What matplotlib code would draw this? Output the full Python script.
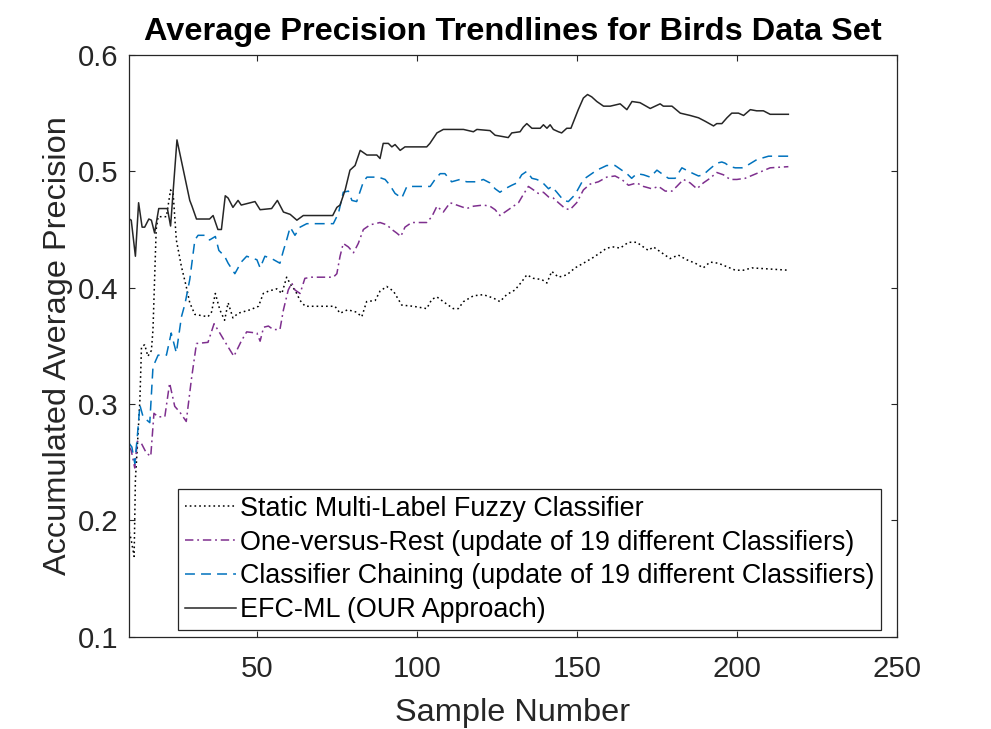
import matplotlib
matplotlib.use("Agg")
import matplotlib.pyplot as plt

# ---------------- data ----------------
static_pts = [(10,0.19),(10.6,0.183),(11.5,0.169),(11.9,0.235),(12.5,0.263),(13.3,0.303),(13.8,0.349),
    (14.8,0.351),(15.8,0.341),(16.9,0.346),(17.4,0.364),(18.4,0.450),(19,0.461),(21.6,0.461),(22.9,0.484),
    (23.7,0.481),(24.7,0.441),(26.3,0.418),(27.8,0.401),(28.9,0.387),(30.5,0.377),(34.6,0.375),(35.7,0.379),
    (36.9,0.395),(38.3,0.381),(39.8,0.372),(40.9,0.387),(42.4,0.374),(44,0.378),(47.8,0.381),(50.4,0.384),
    (51.9,0.395),(53.5,0.397),(56.1,0.399),(57.7,0.395),(59.2,0.409),(60.8,0.401),(61.8,0.398),(63.4,0.389),
    (65,0.384),(74.3,0.384),(75.9,0.378),(78.3,0.381),(81,0.379),(82.7,0.375),(84.2,0.388),(86.9,0.389),
    (88.4,0.397),(90.5,0.401),(92.6,0.397),(95.2,0.385),(98.8,0.384),(103,0.382),(104.6,0.390),(106.2,0.392),
    (108.7,0.387),(111.3,0.382),(112.9,0.382),(114.5,0.388),(117.6,0.393),(120.7,0.394),(123.9,0.391),
    (125.9,0.388),(128,0.394),(130.6,0.398),(132.7,0.405),(134.3,0.411),(136.4,0.408),(139,0.407),
    (140.6,0.404),(142.1,0.414),(144.2,0.409),(146.8,0.411),(149.4,0.417),(152,0.421),(155.1,0.426),
    (157.8,0.431),(159.3,0.434),(161.4,0.435),(163.5,0.434),(166.1,0.439),(168.7,0.439),(169.7,0.437),
    (172.3,0.432),(173.9,0.435),(176.5,0.430),(179.1,0.425),(181.7,0.428),(184.3,0.424),(187,0.421),
    (189.5,0.417),(191.6,0.422),(194.2,0.421),(196.9,0.418),(199.5,0.415),(202,0.415),(204.7,0.417),
    (216.1,0.415)]

ovr_pts = [(10,0.263),(10.6,0.260),(11.7,0.245),(12.5,0.268),(13.8,0.266),(15.3,0.258),(16.7,0.255),
    (17.7,0.292),(19,0.289),(21.1,0.289),(22.6,0.318),(24.2,0.298),(25.8,0.293),(27.8,0.285),(29.4,0.321),
    (31,0.352),(34.6,0.353),(36.5,0.369),(38.3,0.361),(40.9,0.349),(42.7,0.341),(45,0.354),(46.7,0.362),
    (49.9,0.361),(50.9,0.354),(52,0.366),(53.5,0.367),(55,0.364),(57.1,0.364),(58.2,0.381),(59.7,0.398),
    (60.8,0.404),(61.8,0.398),(63.4,0.395),(64.9,0.408),(67,0.409),(73.8,0.409),(74.9,0.412),(75.9,0.427),
    (76.9,0.438),(78.5,0.435),(80.1,0.430),(81.6,0.438),(83.2,0.450),(85.3,0.454),(88.4,0.456),(90.5,0.454),
    (92.1,0.450),(93.6,0.447),(94.9,0.444),(96.2,0.452),(98.3,0.456),(103,0.456),(104.6,0.461),(106.2,0.470),
    (108.2,0.465),(110.3,0.473),(112.4,0.471),(115.5,0.468),(117.6,0.470),(120.7,0.471),(122.8,0.470),
    (124.4,0.467),(125.9,0.462),(127.5,0.465),(130.1,0.470),(131.7,0.473),(133.2,0.480),(134.8,0.487),
    (136.4,0.484),(137.9,0.481),(139.5,0.482),(141.1,0.478),(142.6,0.477),(144.2,0.473),(146.3,0.468),
    (147.8,0.467),(149.9,0.473),(152,0.484),(154.1,0.489),(156.7,0.491),(159.3,0.495),(161.9,0.496),
    (164,0.493),(166.1,0.488),(168.7,0.490),(170.8,0.487),(173.4,0.485),(175.5,0.487),(177.6,0.483),
    (179.7,0.483),(181.2,0.487),(183.3,0.493),(185.4,0.490),(187.5,0.485),(189.5,0.490),(191.6,0.494),
    (193.7,0.499),(195.8,0.497),(197.9,0.493),(200,0.493),(202.6,0.494),(205.2,0.497),(207.8,0.500),
    (210.4,0.503),(216.1,0.504)]

cc_pts = [(10,0.266),(10.8,0.263),(11.7,0.249),(12.5,0.272),(13.3,0.299),(14.3,0.289),(16.4,0.284),
    (17.4,0.332),(19,0.342),(21.6,0.342),(23.1,0.361),(24.7,0.344),(26.3,0.375),(27.4,0.386),(28.9,0.407),
    (30.5,0.441),(31.5,0.445),(33.6,0.445),(35.1,0.441),(36.9,0.444),(38,0.432),(39.8,0.427),(40.9,0.421),
    (43,0.412),(45,0.422),(46.7,0.427),(49.9,0.424),(50.9,0.417),(52.4,0.427),(54.5,0.425),(57.1,0.421),
    (58.2,0.432),(59.2,0.441),(60.3,0.452),(61.8,0.445),(63.4,0.452),(65.5,0.455),(73.8,0.455),(75.4,0.464),
    (76.9,0.482),(78.5,0.483),(79.6,0.475),(81.1,0.474),(83.2,0.491),(84.3,0.495),(87.9,0.495),(90,0.493),
    (91.5,0.488),(93.1,0.481),(95.2,0.477),(96.8,0.487),(104.1,0.487),(105.6,0.493),(107.2,0.498),
    (108.7,0.498),(110.8,0.491),(113.4,0.493),(115.5,0.491),(118.7,0.491),(120.7,0.493),(122.8,0.490),
    (124.4,0.485),(125.9,0.482),(127.5,0.485),(129.6,0.488),(131.2,0.490),(132.7,0.497),(134.3,0.500),
    (135.9,0.494),(137.4,0.493),(139,0.491),(141.1,0.485),(142.1,0.487),(143.7,0.482),(145.8,0.475),
    (147.3,0.474),(149.4,0.480),(152,0.493),(154.1,0.497),(156.2,0.501),(159.3,0.505),(161.9,0.505),
    (164,0.501),(165.6,0.498),(167.1,0.494),(168.7,0.498),(170.8,0.497),(172.9,0.495),(175,0.501),
    (176.5,0.498),(178.6,0.494),(180.7,0.494),(182.8,0.503),(184.9,0.500),(186.4,0.498),(188,0.496),
    (189.5,0.497),(191.1,0.501),(193.7,0.507),(195.3,0.508),(196.3,0.507),(197.9,0.504),(199.5,0.503),
    (201.6,0.503),(203.2,0.505),(206.2,0.510),(209.9,0.513),(216.1,0.513)]

efc_pts = [(10,0.459),(10.6,0.458),(11.9,0.427),(12.9,0.473),(14,0.452),(14.8,0.452),(16.1,0.459),
    (16.9,0.458),(17.9,0.447),(19.2,0.468),(21.9,0.468),(22.9,0.453),(24.9,0.527),(28.9,0.475),(29.6,0.470),
    (31,0.459),(35.1,0.459),(36.2,0.462),(37.7,0.450),(38.8,0.450),(40,0.479),(40.9,0.477),(42.4,0.469),
    (44,0.475),(45,0.471),(49.3,0.474),(50.9,0.467),(54.5,0.468),(56.3,0.475),(58.2,0.465),(60.3,0.463),
    (62.4,0.458),(64.4,0.462),(73.6,0.462),(74.9,0.469),(75.9,0.471),(77.5,0.484),(79,0.501),(80.6,0.505),
    (82.2,0.518),(84.3,0.514),(87.4,0.514),(88.4,0.511),(89.4,0.524),(91,0.524),(92.1,0.521),(93.1,0.523),
    (94.7,0.518),(96.2,0.521),(103,0.521),(104,0.524),(106.2,0.533),(108.2,0.536),(114.5,0.536),
    (117.6,0.534),(118.7,0.536),(122.8,0.535),(124.4,0.531),(126.5,0.530),(128.5,0.529),(129.6,0.533),
    (132.2,0.534),(133.2,0.538),(134.3,0.541),(135.9,0.537),(138.5,0.537),(139.5,0.540),(140.6,0.537),
    (141.6,0.540),(142.6,0.536),(144.2,0.534),(145.2,0.533),(146.8,0.537),(148.1,0.537),(150.4,0.553),
    (152,0.563),(153.3,0.566),(154.6,0.564),(156.2,0.560),(158.3,0.556),(160.4,0.556),(163.5,0.558),
    (165.6,0.553),(167.2,0.560),(169.7,0.559),(172.9,0.554),(176,0.558),(177,0.556),(179.7,0.556),
    (182.3,0.550),(185.4,0.548),(188,0.546),(190.1,0.543),(192.7,0.539),(193.7,0.541),(195.3,0.541),
    (196.9,0.546),(198.4,0.550),(200.5,0.550),(202.1,0.548),(204.2,0.553),(206.2,0.552),(208.3,0.552),
    (210.4,0.549),(216.1,0.549)]

labels = ["Static Multi-Label Fuzzy Classifier",
          "One-versus-Rest (update of 19 different Classifiers)",
          "Classifier Chaining (update of 19 different Classifiers)",
          "EFC-ML (OUR Approach)"]
x_ticks = [50, 100, 150, 200, 250]
y_ticks = [0.1, 0.2, 0.3, 0.4, 0.5, 0.6]

# ---------------- style ----------------
plt.rcParams['font.family'] = ['Liberation Sans', 'DejaVu Sans']
AX_COL = '#262626'

fig = plt.figure(figsize=(9.91, 7.29), dpi=100)
ax = fig.add_axes([0.1305, 0.1266, 0.7744, 0.798])

lw = 1.1
def xy(pts):
    xs, ys = zip(*pts)
    return list(xs), list(ys)

x, y = xy(static_pts)
ax.plot(x, y, color='#000000', lw=lw, linestyle=(0, (1.1, 2.0)), label=labels[0])
x, y = xy(ovr_pts)
ax.plot(x, y, color='#7E2F8E', lw=lw, linestyle=(0, (5.5, 2.5, 1.2, 2.5)), label=labels[1])
x, y = xy(cc_pts)
ax.plot(x, y, color='#0072BD', lw=lw, linestyle=(0, (6.5, 4.0)), label=labels[2])
x, y = xy(efc_pts)
ax.plot(x, y, color='#262626', lw=lw, linestyle='-', label=labels[3])

ax.set_xlim(10, 250)
ax.set_ylim(0.1, 0.6)
ax.set_xticks(x_ticks)
ax.set_yticks(y_ticks)
ax.set_xticklabels([str(v) for v in x_ticks])
ax.set_yticklabels([f"{v:.1f}" for v in y_ticks])

ax.tick_params(direction='in', length=4.5, width=0.8, colors=AX_COL, labelsize=21.2,
               top=True, right=True)
ax.tick_params(axis='x', pad=13)
ax.tick_params(axis='y', pad=8)
for sp in ax.spines.values():
    sp.set_color(AX_COL)
    sp.set_linewidth(0.9)

ax.set_xlabel("Sample Number", fontsize=23.4, color=AX_COL, labelpad=11)
ax.set_ylabel("Accumulated Average Precision", fontsize=23.4, color=AX_COL, labelpad=3)
ax.set_title("Average Precision Trendlines for Birds Data Set", fontsize=23.4,
             fontweight='bold', color='black', pad=11)

leg = ax.legend(loc='lower right', bbox_to_anchor=(0.980, 0.0115), fontsize=19.4,
                frameon=True, fancybox=False, framealpha=1, edgecolor=AX_COL,
                handlelength=1.9, handletextpad=0.15, labelspacing=0.29,
                borderpad=0.25, borderaxespad=0.0)
leg.get_frame().set_linewidth(0.9)

fig.savefig("out.png", dpi=100, facecolor='white')
